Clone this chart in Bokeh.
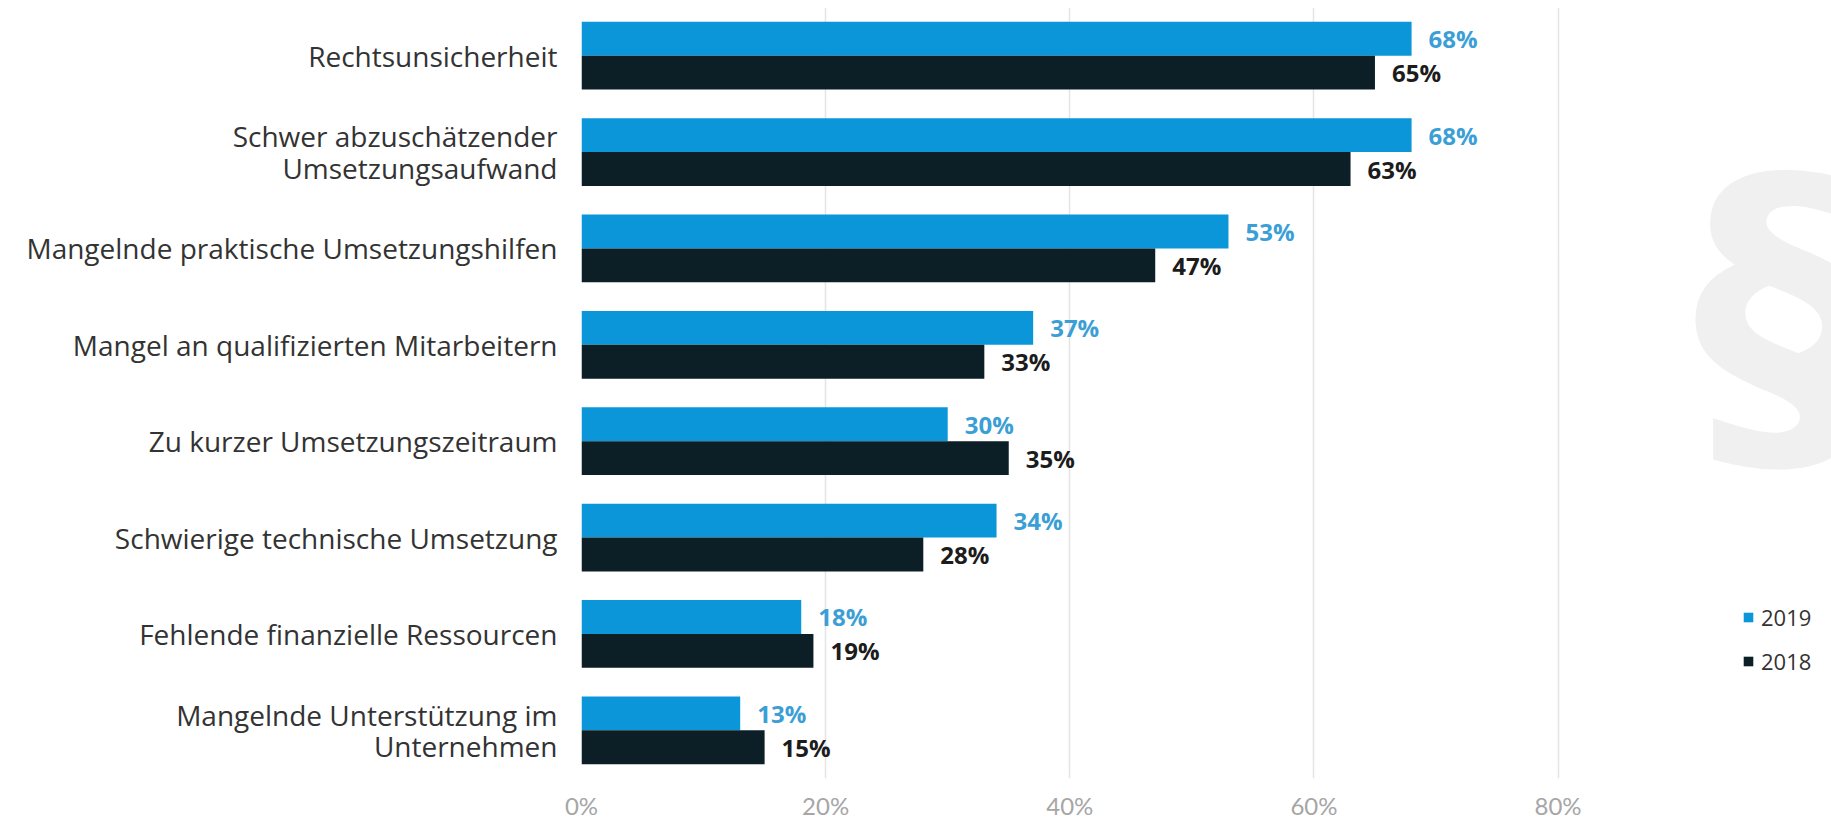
from bokeh.plotting import figure
from bokeh.models import (ColumnDataSource, Range1d, FixedTicker, Legend, LegendItem,
                          Label, NumeralTickFormatter)
from bokeh.transform import dodge
from bokeh.core.properties import value
from bokeh.embed import file_html
from bokeh.resources import INLINE

categories = [
    "Rechtsunsicherheit",
    "Schwer abzuschätzender\nUmsetzungsaufwand",
    "Mangelnde praktische Umsetzungshilfen",
    "Mangel an qualifizierten Mitarbeitern",
    "Zu kurzer Umsetzungszeitraum",
    "Schwierige technische Umsetzung",
    "Fehlende finanzielle Ressourcen",
    "Mangelnde Unterstützung im\nUnternehmen",
]
values_2019 = [68, 68, 53, 37, 30, 34, 18, 13]
values_2018 = [65, 63, 47, 33, 35, 28, 19, 15]
series_names = ["2019", "2018"]
x_ticks = [0, 20, 40, 60, 80]

BLUE = "#0c96da"
DARK = "#0c1f27"
BLUE_TXT = "#3b9fd6"
DARK_TXT = "#1c1c1c"
FONT = "Open Sans"

ypos = list(range(len(categories)))
src = ColumnDataSource(dict(
    y=ypos,
    v19=values_2019,
    v18=values_2018,
    t19=[f"{v}%" for v in values_2019],
    t18=[f"{v}%" for v in values_2018],
))

p = figure(width=1831, height=822, output_backend="svg", toolbar_location=None,
           x_range=Range1d(0, 102.4), y_range=Range1d(7.5, -0.5),
           min_border_left=581, min_border_right=0, min_border_top=7,
           min_border_bottom=42)
p.outline_line_color = None
p.background_fill_color = "white"
p.border_fill_color = "white"

bh = 0.352
r19 = p.hbar(y=dodge("y", -bh / 2, range=p.y_range), left=0, right="v19", height=bh,
             source=src, fill_color=BLUE, line_color=None)
r18 = p.hbar(y=dodge("y", bh / 2, range=p.y_range), left=0, right="v18", height=bh,
             source=src, fill_color=DARK, line_color=None)

p.text(x="v19", y=dodge("y", -bh / 2, range=p.y_range), text="t19", source=src,
       x_offset=17, text_align="left", text_baseline="middle",
       text_font=value(FONT), text_font_size="24px", text_font_style="bold",
       text_color=BLUE_TXT)
p.text(x="v18", y=dodge("y", bh / 2, range=p.y_range), text="t18", source=src,
       x_offset=17, text_align="left", text_baseline="middle",
       text_font=value(FONT), text_font_size="24px", text_font_style="bold",
       text_color=DARK_TXT)

# grid
p.ygrid.grid_line_color = None
p.xgrid.ticker = FixedTicker(ticks=x_ticks)
p.xgrid.grid_line_color = "#e4e4e4"
p.xgrid.grid_line_width = 1.5

# x axis
p.xaxis.ticker = FixedTicker(ticks=x_ticks)
p.xaxis.formatter = NumeralTickFormatter(format="0%")
p.xaxis.major_label_overrides = {t: f"{t}%" for t in x_ticks}
p.xaxis.axis_line_color = None
p.xaxis.major_tick_line_color = None
p.xaxis.minor_tick_line_color = None
p.xaxis.major_tick_out = 0
p.xaxis.major_tick_in = 0
p.xaxis.minor_tick_out = 0
p.xaxis.major_label_text_font = "Lato"
p.xaxis.major_label_text_font_size = "24px"
p.xaxis.major_label_text_color = "#a6a6a6"
p.xaxis.major_label_standoff = 12

# y axis
p.yaxis.ticker = FixedTicker(ticks=ypos)
p.yaxis.major_label_overrides = {i: c for i, c in zip(ypos, categories)}
p.yaxis.axis_line_color = None
p.yaxis.major_tick_line_color = None
p.yaxis.minor_tick_line_color = None
p.yaxis.major_tick_out = 0
p.yaxis.major_tick_in = 0
p.yaxis.minor_tick_out = 0
p.yaxis.major_label_text_font = FONT
p.yaxis.major_label_text_font_size = "28px"
p.yaxis.major_label_text_line_height = 0.83
p.yaxis.major_label_text_color = "#333333"
p.yaxis.major_label_standoff = 24

# watermark
wm = Label(x=1782 - 581, y=467, x_units="screen", y_units="screen",
           text="§", text_font="DejaVu Sans", text_font_style="bold",
           text_font_size="358px", text_color="#f0f0f0", text_align="center",
           text_baseline="middle", level="underlay")
p.add_layout(wm)

legend = Legend(items=[LegendItem(label=series_names[0], renderers=[r19]),
                       LegendItem(label=series_names[1], renderers=[r18])],
                location=(1161, 102), orientation="vertical")
legend.background_fill_alpha = 0
legend.border_line_color = None
legend.padding = 0
legend.margin = 0
legend.glyph_width = 12
legend.glyph_height = 12
legend.label_height = 24
legend.spacing = 14
legend.label_standoff = 7
legend.label_text_font = FONT
legend.label_text_font_size = "22px"
legend.label_text_color = "#333333"
p.add_layout(legend)

open("out.html", "w").write(file_html(p, INLINE))
